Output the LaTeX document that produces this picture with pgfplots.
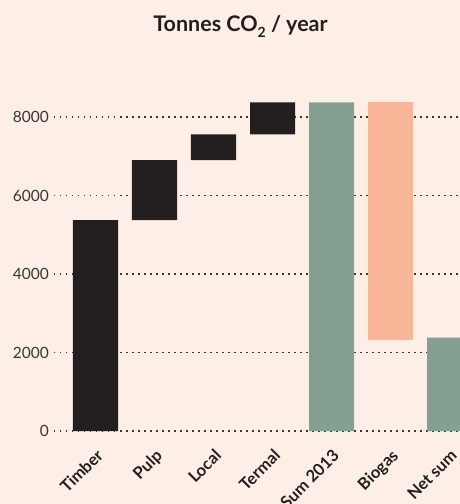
\documentclass[border=0pt]{standalone}
\usepackage{pgfplots}
\pgfplotsset{compat=1.18}
\usepackage{fontspec}
\setmainfont{Lato}
\definecolor{bg}{HTML}{FDEEE6}
\definecolor{txt}{HTML}{231F20}
\definecolor{ticktxt}{HTML}{3A3535}
\definecolor{barblack}{HTML}{231F20}
\definecolor{bargreen}{HTML}{84A092}
\definecolor{barsalmon}{HTML}{F8B598}
\begin{document}
\begin{tikzpicture}[x=1pt,y=1pt]
\useasboundingbox (0,0) rectangle (460,504);
\clip (0,0) rectangle (460,504);
\fill[bg] (0,0) rectangle (460,504);
\node[anchor=base, font=\fontsize{21.5}{24}\selectfont\bfseries, text=txt] at (240.5,472.5) {Tonnes CO\raisebox{-6pt}{\fontsize{14}{14}\selectfont 2} / year};
\begin{axis}[at={(54pt,73pt)}, anchor=south west, scale only axis,
 width=406pt, height=329.7pt,
 xmin=-0.7034, xmax=6.178, ymin=0, ymax=8400,
 ytick={0,2000,4000,6000,8000},
 ymajorgrids,
 major grid style={draw=ticktxt, line width=1.5pt, dash pattern=on 1.5pt off 4.5pt},
 xtick={0,...,6},
 xticklabels={Timber,Pulp,Local,Termal,Sum 2013,Biogas,Net sum},
 axis line style={draw=none},
 major tick length=0pt,
 ybar stacked, bar width=45pt,
 /pgf/number format/assume math mode=true,
 /pgf/number format/1000 sep={},
 yticklabel style={font=\fontsize{15.5}{18}\selectfont, text=ticktxt, anchor=east, inner sep=0pt, xshift=-5pt},
 xticklabel style={font=\fontsize{16.5}{18}\selectfont\bfseries, text=txt, inner sep=0pt, xshift=0pt, yshift=-17pt, rotate=45, anchor=north east},
]
\addplot[fill=none, draw=none] coordinates {(0,0) (1,5370) (2,6900) (3,7560) (4,0) (5,2330) (6,0)};
\addplot[fill=barblack, draw=none] coordinates {(0,5370) (1,1530) (2,660) (3,810) (4,0) (5,0) (6,0)};
\addplot[fill=bargreen, draw=none] coordinates {(0,0) (1,0) (2,0) (3,0) (4,8370) (5,0) (6,2380)};
\addplot[fill=barsalmon, draw=none] coordinates {(0,0) (1,0) (2,0) (3,0) (4,0) (5,6040) (6,0)};
\end{axis}
\end{tikzpicture}
\end{document}
